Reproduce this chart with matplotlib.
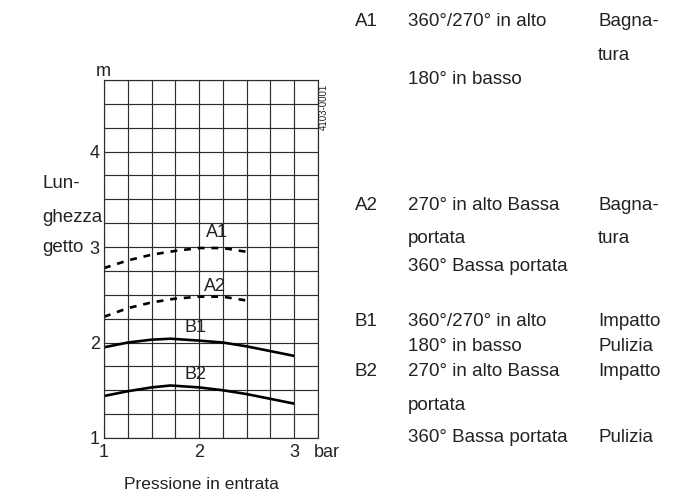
import matplotlib
matplotlib.use("Agg")
import matplotlib.pyplot as plt
import numpy as np

plt.rcParams['font.family'] = ['Liberation Sans', 'DejaVu Sans']

# dati (pressione in bar, lunghezza getto in m)
x_a = [1.0, 1.25, 1.5, 1.75, 2.0, 2.25, 2.5]
a1 = [2.78, 2.86, 2.92, 2.96, 2.99, 2.99, 2.95]
a2 = [2.27, 2.36, 2.42, 2.46, 2.48, 2.48, 2.44]
x_b = [1.0, 1.25, 1.5, 1.7, 2.0, 2.25, 2.5, 2.75, 3.0]
b1 = [1.95, 2.00, 2.03, 2.04, 2.02, 2.00, 1.96, 1.91, 1.86]
b2 = [1.44, 1.49, 1.53, 1.55, 1.53, 1.50, 1.46, 1.41, 1.36]

x_ticks = [1, 2, 3]
y_ticks = [1, 2, 3, 4]

W, H = 683, 497
fig = plt.figure(figsize=(W / 100, H / 100), dpi=100)
ax = fig.add_axes([104 / W, 1 - 438 / H, 214 / W, 358 / H])

ink = '#222222'
grid_c = '#2e2e2e'
fs = 13.5

ax.plot(x_a, a1, color='black', lw=1.9, dashes=(2.6, 2.6))
ax.plot(x_a, a2, color='black', lw=1.9, dashes=(2.6, 2.6))
ax.plot(x_b, b1, color='black', lw=1.9, solid_capstyle='butt')
ax.plot(x_b, b2, color='black', lw=1.9, solid_capstyle='butt')

ax.set_xlim(1, 3.25)
ax.set_ylim(1, 4.75)
ax.set_xticks(x_ticks)
ax.set_yticks(y_ticks)
ax.set_xticks(np.arange(1, 3.26, 0.25), minor=True)
ax.set_yticks(np.arange(1, 4.76, 0.25), minor=True)
ax.grid(True, which='both', color=grid_c, lw=0.85)
ax.set_axisbelow(True)
ax.tick_params(which='both', length=0, labelsize=13, labelcolor=ink)
ax.tick_params(axis='x', pad=4)
ax.tick_params(axis='y', pad=3)
for s in ax.spines.values():
    s.set_color(grid_c)
    s.set_linewidth(0.85)

# etichette delle curve
ax.text(2.19, 3.15, 'A1', fontsize=13, color=ink, ha='center', va='center')
ax.text(2.17, 2.59, 'A2', fontsize=13, color=ink, ha='center', va='center')
ax.text(1.96, 2.16, 'B1', fontsize=13, color=ink, ha='center', va='center')
ax.text(1.96, 1.66, 'B2', fontsize=13, color=ink, ha='center', va='center')


def ftext(x, y, s, **kw):
    kw.setdefault('fontsize', fs)
    kw.setdefault('color', ink)
    kw.setdefault('va', 'baseline')
    fig.text(x / W, 1 - y / H, s, **kw)


ftext(103, 76, 'm', ha='center', fontsize=13)
ftext(327, 457, 'bar', ha='center', fontsize=13)
ftext(201, 489, 'Pressione in entrata', ha='center', fontsize=12.5)
ftext(324, 107, '4103-0001', fontsize=7, rotation=90, ha='center', va='center')

ftext(42, 188.5, 'Lun-')
ftext(42, 221.5, 'ghezza')
ftext(42, 252.5, 'getto')

# legenda a destra
ftext(355, 26.5, 'A1')
ftext(408, 26.5, '360°/270° in alto')
ftext(598, 26.5, 'Bagna-')
ftext(598, 59.5, 'tura')
ftext(408, 84, '180° in basso')

ftext(355, 210, 'A2')
ftext(408, 210, '270° in alto Bassa')
ftext(598, 210, 'Bagna-')
ftext(408, 243, 'portata')
ftext(598, 243, 'tura')
ftext(408, 271, '360° Bassa portata')

ftext(355, 326, 'B1')
ftext(408, 326, '360°/270° in alto')
ftext(598, 326, 'Impatto')
ftext(408, 351, '180° in basso')
ftext(598, 351, 'Pulizia')
ftext(355, 376, 'B2')
ftext(408, 376, '270° in alto Bassa')
ftext(598, 376, 'Impatto')
ftext(408, 410, 'portata')
ftext(408, 442, '360° Bassa portata')
ftext(598, 442, 'Pulizia')

fig.savefig('out.png', dpi=100)
